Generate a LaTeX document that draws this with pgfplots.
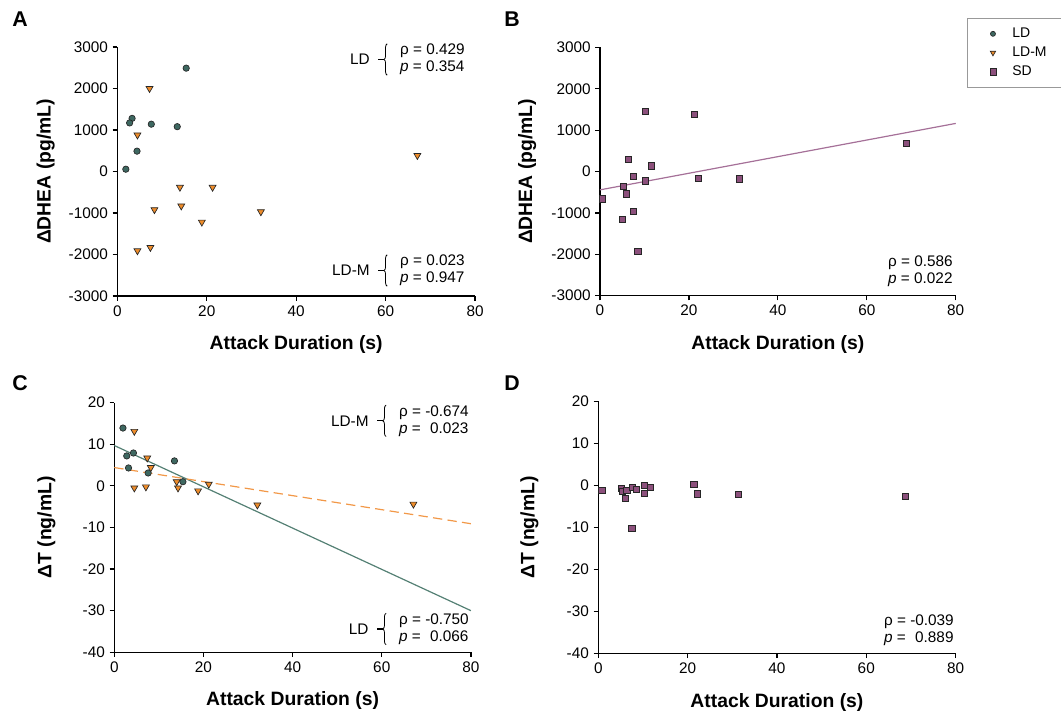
\documentclass[border=0pt]{standalone}
\usepackage{fontspec}
\setmainfont{Liberation Sans}
\usepackage{pgfplots}
\pgfplotsset{compat=1.18}
\usetikzlibrary{decorations.pathreplacing}

\definecolor{ldfill}{RGB}{62,104,97}
\definecolor{ldline}{RGB}{84,128,116}
\definecolor{ldmfill}{RGB}{238,140,42}
\definecolor{ldmline}{RGB}{242,152,72}
\definecolor{sdfill}{RGB}{140,80,124}
\definecolor{sdline}{RGB}{165,112,152}

\newcommand{\statfont}{\fontsize{11.5}{12.8}\selectfont}

\pgfplotsset{
  panel/.style={
    scale only axis,
    axis lines=left,
    axis line style={-, line width=0.9pt},
    tick align=outside,
    major tick length=3.5pt,
    tick style={black, line width=0.9pt},
    xmin=0, xmax=80, xtick={0,20,...,80},
    tick label style={font=\fontsize{11.5}{13}\selectfont},
    /pgf/number format/assume math mode=true,
    /pgf/number format/1000 sep={},
    scaled ticks=false,
    label style={font=\fontsize{14.5}{16}\selectfont\bfseries},
    xlabel={Attack Duration (s)},
    xlabel style={at={(axis description cs:0.5,-0.215)}, anchor=base},
    clip=false,
  },
  ldmark/.style={only marks, mark=*, mark size=2.4pt,
    mark options={fill=ldfill, draw=black!85, line width=0.5pt}},
  ldmmark/.style={only marks, mark=triangle*, mark size=3pt,
    mark options={rotate=180, fill=ldmfill, draw=black!85, line width=0.5pt}},
  sdmark/.style={only marks, mark=square*, mark size=2.3pt,
    mark options={fill=sdfill, draw=black!85, line width=0.5pt}},
}

% statistics block: x, y (px, east side), group, line 1, line 2
\newcommand{\statb}[5]{%
  \node[anchor=east, align=left, inner sep=0pt, font=\statfont] (tmp) at (#1,#2) {#4\\#5};
  \draw[line width=0.6pt, decorate, decoration={brace, amplitude=2.5pt}]
    ([xshift=-9.5pt]tmp.south west) -- ([xshift=-9.5pt]tmp.north west);
  \draw[line width=0.9pt] ([xshift=-12pt]tmp.west) -- ([xshift=-16.5pt]tmp.west);
  \node[anchor=east, inner sep=0pt, font=\statfont] at ([xshift=-22.5pt]tmp.west) {#3};
}
\newcommand{\stat}[4]{%
  \node[anchor=east, align=left, inner sep=0pt, font=\statfont] at (#1,#2) {#3\\#4};
}

\begin{document}
\begin{tikzpicture}
\path[use as bounding box] (0,0) rectangle (795.75pt,534pt);

% A
\begin{axis}[panel, at={(88pt,312pt)}, anchor=south west,
  width=268.3pt, height=186.75pt,
  ymin=-3000, ymax=3000, ytick={-3000,-2000,...,3000},
  ylabel={ΔDHEA (pg/mL)},
  ylabel style={at={(axis description cs:-0.2,0.5)}, anchor=center}]
\addplot[ldmark] coordinates {(15.4,2490) (3.3,1280) (2.75,1170) (7.6,1140)
  (13.4,1080) (4.4,490) (1.9,55)};
\addplot[ldmmark] coordinates {(7.2,2000) (4.5,880) (14.0,-380) (21.3,-380)
  (8.3,-920) (14.3,-830) (32.1,-970) (18.9,-1220) (4.5,-1910) (7.4,-1830) (67.1,385)};
\end{axis}

% B
\begin{axis}[panel, at={(450pt,312.2pt)}, anchor=south west,
  width=266.8pt, height=186.3pt,
  ymin=-3000, ymax=3000, ytick={-3000,-2000,...,3000},
  ylabel={ΔDHEA (pg/mL)},
  ylabel style={at={(axis description cs:-0.205,0.5)}, anchor=center},
  legend image code/.code={%
    \path (0cm,0cm) (0.95cm,0cm);
    \draw[#1] plot coordinates {(0.52cm,0cm)};},
  legend style={at={(1.032,1.117)}, anchor=north west, draw=gray!80,
    line width=0.6pt, font=\fontsize{10.5}{12}\selectfont,
    inner xsep=4pt, inner ysep=5pt, row sep=1.5pt, column sep=0pt,
    /tikz/every even column/.append style={text width=40pt}},
  legend cell align=left]
\addlegendimage{ldmark, mark size=1.9pt}
\addlegendentry{LD}
\addlegendimage{ldmmark, mark size=2.3pt}
\addlegendentry{LD-M}
\addplot[sdmark] coordinates {(10.2,1446) (21.2,1380) (6.3,291) (11.5,138)
  (7.5,-121) (10.2,-225) (22.1,-170) (31.3,-177) (68.8,671) (5.3,-363)
  (6.0,-540) (0.6,-661) (7.4,-968) (5.1,-1162) (8.5,-1920)};
\addlegendentry{SD}
\addplot[sdline, line width=0.9pt, forget plot] coordinates {(0,-443) (80,1162)};
\end{axis}

% C
\begin{axis}[panel, at={(85.7pt,44.8pt)}, anchor=south west,
  width=267.5pt, height=187.2pt,
  ymin=-40, ymax=20, ytick={-40,-30,...,20},
  ylabel={ΔT (ng/mL)},
  ylabel style={at={(axis description cs:-0.19,0.5)}, anchor=center}]
\addplot[ldline, line width=0.9pt] coordinates {(0,9.7) (80,-30)};
\addplot[ldmline, line width=0.9pt, dash pattern=on 7pt off 4pt] coordinates {(0,4.4) (80,-9.1)};
\addplot[ldmark] coordinates {(1.95,13.9) (2.8,7.2) (3.2,4.3) (4.3,7.9)
  (7.6,3.1) (13.5,6.0) (15.4,1.0)};
\addplot[ldmmark] coordinates {(4.5,13.1) (7.4,6.7) (8.2,4.4) (4.5,-0.5)
  (7.1,-0.25) (14.0,1.0) (14.3,-0.5) (18.8,-1.2) (21.2,0.4) (32.1,-4.6) (67.1,-4.4)};
\end{axis}

% D
\begin{axis}[panel, at={(448.7pt,43.9pt)}, anchor=south west,
  width=268pt, height=189pt,
  ymin=-40, ymax=20, ytick={-40,-30,...,20},
  ylabel={ΔT (ng/mL)},
  ylabel style={at={(axis description cs:-0.193,0.5)}, anchor=center}]
\addplot[sdmark] coordinates {(0.8,-1.1) (5.2,-0.6) (5.4,-1.4) (6.4,-1.2)
  (6.1,-3.0) (7.6,-0.5) (8.6,-0.9) (7.5,-10.2) (10.3,0.1) (10.3,-1.8)
  (11.6,-0.4) (21.4,0.2) (22.2,-2.0) (31.3,-2.1) (68.8,-2.5)};
\end{axis}

% annotations and panel letters, in pixel units of the reference
\begin{scope}[x=0.75pt, y=-0.75pt, yshift=534pt]
\statb{465}{59.5}{LD}{ρ = 0.429}{\textit{p} = 0.354}
\statb{465}{270.5}{LD-M}{ρ = 0.023}{\textit{p} = 0.947}
\stat{953}{271.5}{ρ = 0.586}{\textit{p} = 0.022}
\statb{469}{420.8}{LD-M}{ρ = -0.674}{\textit{p} = \phantom{-}0.023}
\statb{469}{629}{LD}{ρ = -0.750}{\textit{p} = \phantom{-}0.066}
\stat{954}{630}{ρ = -0.039}{\textit{p} = \phantom{-}0.889}
\foreach \l/\x/\y in {A/20/19.5, B/512/19.5, C/20/383, D/512/383}
  \node[font=\fontsize{16}{18}\selectfont\bfseries] at (\x,\y) {\l};
\end{scope}
\end{tikzpicture}
\end{document}
